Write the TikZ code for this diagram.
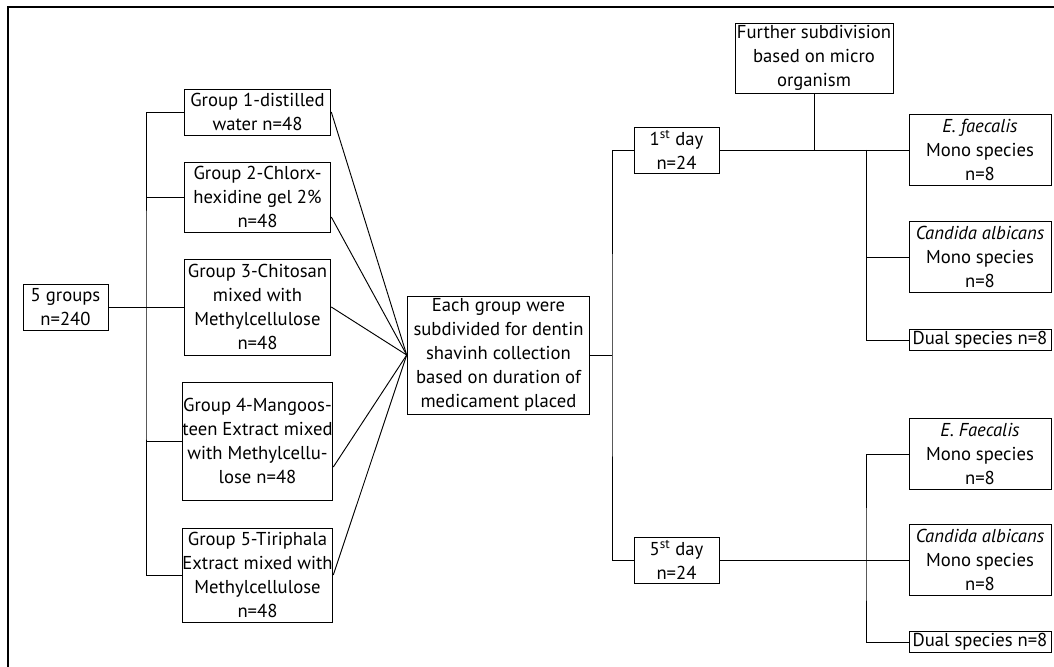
\documentclass[tikz,border=0pt]{standalone}
\usepackage{fontspec}
\setmainfont{PT Sans}
\usetikzlibrary{positioning, calc}

\tikzset{
  box/.style={draw, align=center, inner sep=0pt, line width=0.7pt,
    font=\fontsize{14}{18}\selectfont},
  link/.style={line width=0.7pt}
}

\begin{document}
\begin{tikzpicture}[x=0.75pt, y=-0.75pt]
  \useasboundingbox (0,0) rectangle (1054,667);
  % Frame
  \draw[line width=1.6pt] (8,667) -- (8,7) -- (1054,7);

  % Nodes
  \node[box, minimum width=63.75pt, minimum height=34.5pt] (total) at (65.5,307) {5 groups\\n=240};
  \node[box, minimum width=110pt, minimum height=34.5pt] (g1) at (257.5,112) {Group 1-distilled\\water n=48};
  \node[box, minimum width=110pt, minimum height=52.5pt] (g2) at (257.5,197) {Group 2-Chlorx-\\hexidine gel 2\%\\n=48};
  \node[box, minimum width=110pt, minimum height=72pt] (g3) at (257.5,307) {Group 3-Chitosan\\mixed with\\Methylcellulose\\n=48};
  \node[box, minimum width=113pt, minimum height=88.5pt] (g4) at (257.5,441) {Group 4-Mangoos-\\teen Extract mixed\\with Methylcellu-\\lose n=48};
  \node[box, minimum width=113pt, minimum height=70.5pt] (g5) at (257.5,575) {Group 5-Tiriphala\\Extract mixed with\\Methylcellulose\\n=48};
  \node[box, minimum width=137pt, minimum height=88.5pt] (each) at (498.5,355) {Each group were\\subdivided for dentin\\shavinh collection\\based on duration of\\medicament placed};
  \node[box, minimum width=63.75pt, minimum height=34.5pt] (day1) at (676.5,150) {1\textsuperscript{st} day\\n=24};
  \node[box, minimum width=63.75pt, minimum height=34.5pt] (day5) at (676.5,560) {5\textsuperscript{st} day\\n=24};
  \node[box, minimum width=118.5pt, minimum height=52.5pt] (further) at (814,58) {Further subdivision\\based on micro\\organism};
  \node[box, minimum width=106.5pt, minimum height=53pt] (ef1) at (980,150) {\textit{E. faecalis}\\Mono species\\n=8};
  \node[box, minimum width=106.5pt, minimum height=53pt] (ca1) at (980,257) {\textit{Candida albicans}\\Mono species\\n=8};
  \node[box, minimum width=106.5pt, minimum height=16pt] (ds1) at (980,340) {Dual species n=8};
  \node[box, minimum width=106.5pt, minimum height=53pt] (ef2) at (980,454) {\textit{E. Faecalis}\\Mono species\\n=8};
  \node[box, minimum width=106.5pt, minimum height=53pt] (ca2) at (980,560) {\textit{Candida albicans}\\Mono species\\n=8};
  \node[box, minimum width=106.5pt, minimum height=16pt] (ds2) at (980,642) {Dual species n=8};

  \coordinate (trunk) at (146,307);
  \coordinate (split) at (612,355);
  \coordinate (sub1) at (866,150);
  \coordinate (sub2) at (866,560);

  % Lines
  \draw[link] (total.east) -- (g3.west);
  \draw[link] (g1.west) -| (trunk) |- (g5.west);
  \foreach \g in {g2,g4}
  \draw[link] (\g.west) -- (\g.west -| trunk);
  \foreach \g/\s in {g1/0pt,g2/-15pt,g3/0pt,g4/-19.5pt,g5/0pt}
  \draw[link] ([yshift=\s]\g.east) -- (each.west);
  \draw[link] (each.east) -- (split);
  \draw[link] (day1.west) -| (split) |- (day5.west);
  \draw[link] (day1.east) -- (ef1.west);
  \draw[link] (further.south) -- (further.south |- day1.east);
  \draw[link] (sub1) |- (ds1.west);
  \draw[link] (ca1.west) -- (ca1.west -| sub1);
  \draw[link] (day5.east) -- (ca2.west);
  \draw[link] (ef2.west) -| (sub2) |- (ds2.west);
\end{tikzpicture}
\end{document}
